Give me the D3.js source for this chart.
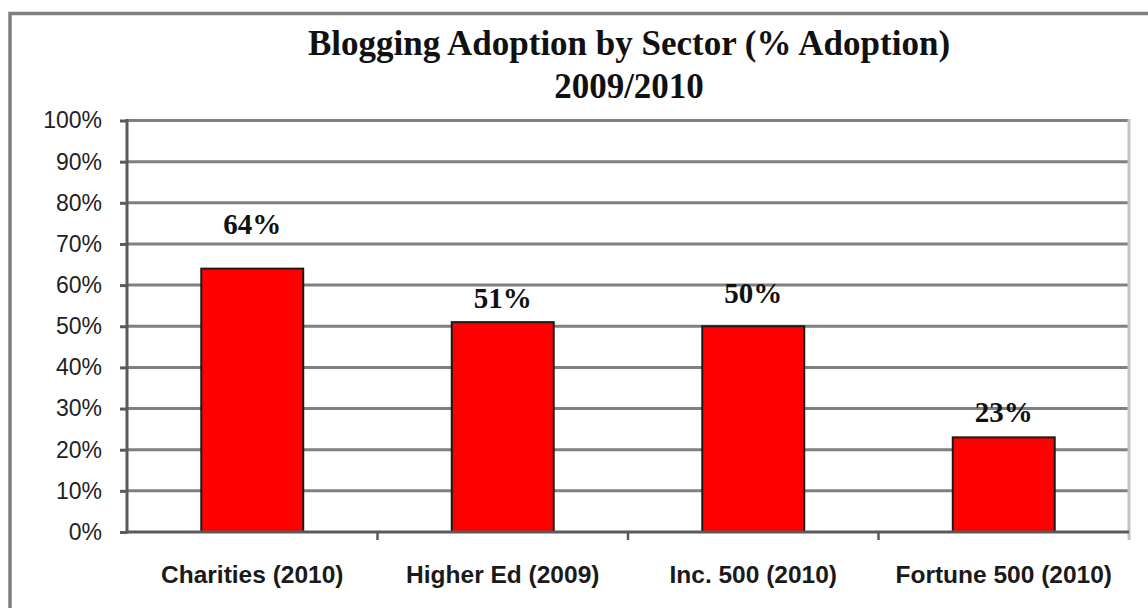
<!DOCTYPE html>
<html>
<head>
<meta charset="utf-8">
<script src="https://cdn.jsdelivr.net/npm/d3@7"></script>
<style>
    body { margin: 0; background: #fff; }
    svg { display: block; }
</style>
</head>
<body>
<svg id="chart"></svg>
<script>
// chart data
const sectors = ["Charities (2010)", "Higher Ed (2009)", "Inc. 500 (2010)", "Fortune 500 (2010)"];
const adoption = [64, 51, 50, 23];
const yTicks = [0, 10, 20, 30, 40, 50, 60, 70, 80, 90, 100];
const titleLines = ["Blogging Adoption by Sector (% Adoption)", "2009/2010"];

// the value labels in the original sit at slightly different heights
const labelGap = [35, 14, 23, 15];

const width = 1148;
const height = 608;
const svg = d3.select("#chart").attr("width", width).attr("height", height);

const plot = {left: 127, right: 1129, top: 120.5, bottom: 532};

// outer frame (cut off on right and bottom like the source)
svg.append("rect")
    .attr("x", 10)
    .attr("y", 13.5)
    .attr("width", 1200)
    .attr("height", 700)
    .attr("fill", "none")
    .attr("stroke", "#7f7f7f")
    .attr("stroke-width", 3.5);

const x = d3.scaleBand()
    .domain(sectors)
    .range([plot.left, plot.right])
    .paddingInner(0.593)
    .paddingOuter(0.2965);

const y = d3.scaleLinear()
    .domain([0, 100])
    .range([plot.bottom, plot.top]);

// gridlines
svg.append("g")
    .selectAll("line")
    .data(yTicks.filter(d => d > 0))
    .enter()
    .append("line")
    .attr("x1", plot.left)
    .attr("x2", plot.right)
    .attr("y1", d => y(d))
    .attr("y2", d => y(d))
    .attr("stroke", "#808080")
    .attr("stroke-width", 3);

// right edge of plot area
svg.append("line")
    .attr("x1", plot.right)
    .attr("x2", plot.right)
    .attr("y1", plot.top - 1.5)
    .attr("y2", plot.bottom + 8)
    .attr("stroke", "#c4c4c4")
    .attr("stroke-width", 3);

// y axis
const yAxis = svg.append("g")
    .attr("transform", `translate(${plot.left},0)`)
    .call(d3.axisLeft(y).tickValues(yTicks).tickFormat(d => d + "%").tickSize(7).tickPadding(18));
yAxis.select(".domain").remove();
yAxis.selectAll(".tick line").attr("stroke", "#5a5a5a").attr("stroke-width", 3);
yAxis.selectAll(".tick text")
    .attr("fill", "#222")
    .style("font-family", "'Liberation Sans', Arial, sans-serif")
    .style("font-size", "23px");
svg.append("line")
    .attr("x1", plot.left)
    .attr("x2", plot.left)
    .attr("y1", plot.top - 1.5)
    .attr("y2", plot.bottom + 1.5)
    .attr("stroke", "#5a5a5a")
    .attr("stroke-width", 3);

// bars
svg.append("g")
    .selectAll("rect")
    .data(adoption)
    .enter()
    .append("rect")
    .attr("x", (d, i) => x(sectors[i]))
    .attr("y", d => y(d))
    .attr("width", x.bandwidth())
    .attr("height", d => y(0) - y(d))
    .attr("fill", "#ff0000")
    .attr("stroke", "#1a1a1a")
    .attr("stroke-width", 2);

// x axis line + category boundary ticks
svg.append("line")
    .attr("x1", plot.left)
    .attr("x2", plot.right)
    .attr("y1", y(0))
    .attr("y2", y(0))
    .attr("stroke", "#5a5a5a")
    .attr("stroke-width", 3);

const bounds = d3.range(sectors.length).map(i => plot.left + i * x.step()).slice(1);
svg.append("g")
    .selectAll("line")
    .data(bounds)
    .enter()
    .append("line")
    .attr("x1", d => d)
    .attr("x2", d => d)
    .attr("y1", y(0))
    .attr("y2", y(0) + 8)
    .attr("stroke", "#5a5a5a")
    .attr("stroke-width", 2.5);

// category labels
svg.append("g")
    .selectAll("text")
    .data(sectors)
    .enter()
    .append("text")
    .attr("x", d => x(d) + x.bandwidth() / 2)
    .attr("y", 583)
    .attr("text-anchor", "middle")
    .attr("fill", "#1a1a1a")
    .style("font-family", "'Liberation Sans', Arial, sans-serif")
    .style("font-weight", "bold")
    .style("font-size", "24.5px")
    .text(d => d);

// value labels
svg.append("g")
    .selectAll("text")
    .data(adoption)
    .enter()
    .append("text")
    .attr("x", (d, i) => x(sectors[i]) + x.bandwidth() / 2)
    .attr("y", (d, i) => y(d) - labelGap[i])
    .attr("text-anchor", "middle")
    .attr("fill", "#111")
    .style("font-family", "'Liberation Serif', 'Times New Roman', serif")
    .style("font-weight", "bold")
    .style("font-size", "29px")
    .text(d => d + "%");

// title
svg.append("g")
    .selectAll("text")
    .data(titleLines)
    .enter()
    .append("text")
    .attr("x", 629)
    .attr("y", (d, i) => 55 + i * 43)
    .attr("text-anchor", "middle")
    .attr("fill", "#111")
    .style("font-family", "'Liberation Serif', 'Times New Roman', serif")
    .style("font-weight", "bold")
    .style("font-size", "35px")
    .text(d => d);
</script>
</body>
</html>
